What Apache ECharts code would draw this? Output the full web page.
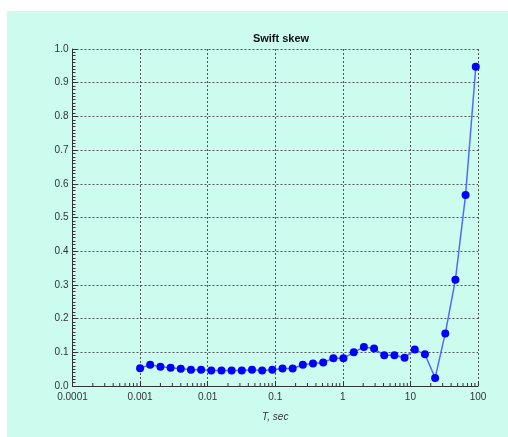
<!DOCTYPE html>
<html>
<head>
<meta charset="utf-8">
<script src="https://cdn.jsdelivr.net/npm/echarts@6/dist/echarts.min.js"></script>
<style>
html,body{margin:0;padding:0;background:#fff;}
#c{width:508px;height:437px;}
</style>
</head>
<body>
<div id="c"></div>
<script>
const titleText = 'Swift skew';
const xName = 'T, sec';
const xTickLabels = ['0.0001', '0.001', '0.01', '0.1', '1', '10', '100'];
const xMinorTicks = [
  0.0002, 0.0003, 0.0004, 0.0005, 0.0006, 0.0007, 0.0008, 0.0009,
  0.002, 0.003, 0.004, 0.005, 0.006, 0.007, 0.008, 0.009,
  0.02, 0.03, 0.04, 0.05, 0.06, 0.07, 0.08, 0.09,
  0.2, 0.3, 0.4, 0.5, 0.6, 0.7, 0.8, 0.9,
  2, 3, 4, 5, 6, 7, 8, 9,
  20, 30, 40, 50, 60, 70, 80, 90];
const periods = [0.001, 0.00141, 0.002, 0.00283, 0.004, 0.00566, 0.008, 0.0113, 0.016, 0.0226,
  0.032, 0.0453, 0.064, 0.0905, 0.128, 0.181, 0.256, 0.362, 0.512, 0.724,
  1.02, 1.45, 2.05, 2.9, 4.1, 5.79, 8.19, 11.6, 16.4, 23.2,
  32.8, 46.3, 65.5, 92.7];
const skew = [0.053, 0.063, 0.057, 0.054, 0.051, 0.048, 0.048, 0.046, 0.046, 0.046,
  0.046, 0.048, 0.046, 0.048, 0.052, 0.052, 0.063, 0.067, 0.070, 0.082,
  0.082, 0.100, 0.116, 0.111, 0.091, 0.091, 0.084, 0.108, 0.094, 0.024,
  0.156, 0.315, 0.567, 0.947];

const chart = echarts.init(document.getElementById('c'), null, {renderer: 'canvas'});
const font = '"Liberation Sans", Arial, sans-serif';
chart.setOption({
  animation: false,
  backgroundColor: '#ffffff',
  graphic: [{
    type: 'rect', z: -10, silent: true,
    shape: {x: 7, y: 11, width: 501, height: 426},
    style: {fill: '#ccfcee'}
  }],
  title: {
    text: titleText, left: 276, top: 28, textAlign: 'center',
    textStyle: {fontFamily: font, fontSize: 11, fontWeight: 'bold', color: '#111'}
  },
  grid: {left: 72.5, right: 30, top: 49, bottom: 51, containLabel: false},
  xAxis: {
    type: 'log', logBase: 10, min: 0.0001, max: 100,
    name: xName, nameLocation: 'middle', nameGap: 26,
    nameTextStyle: {fontFamily: font, fontSize: 10, fontStyle: 'italic', color: '#333'},
    axisLine: {show: true, lineStyle: {color: '#333', width: 1}},
    axisTick: {show: true, inside: true, length: 5, lineStyle: {color: '#333'}},
    minorTick: {show: false},
    axisLabel: {
      fontFamily: font, fontSize: 10, color: '#333', margin: 6,
      formatter: function (v) { return xTickLabels[Math.round(Math.log10(v)) + 4]; }
    },
    splitLine: {show: true, lineStyle: {color: '#555', type: [2, 2], width: 1}}
  },
  yAxis: {
    type: 'value', min: 0, max: 1, interval: 0.1,
    axisLine: {show: true, lineStyle: {color: '#333', width: 1}},
    axisTick: {show: true, inside: true, length: 5, lineStyle: {color: '#333'}},
    minorTick: {show: true, splitNumber: 10, length: 3, lineStyle: {color: '#333'}},
    axisLabel: {
      fontFamily: font, fontSize: 10, color: '#333', margin: 4,
      formatter: function (v) { return v.toFixed(1); }
    },
    splitLine: {show: true, lineStyle: {color: '#555', type: [2, 2], width: 1}}
  },
  series: [{
    type: 'custom',
    silent: true,
    clip: false,
    z: 5,
    data: xMinorTicks.map(v => [v, 0]),
    renderItem: function (params, api) {
      const p = api.coord([api.value(0), api.value(1)]);
      return {
        type: 'line',
        shape: {x1: p[0], y1: p[1], x2: p[0], y2: p[1] - 3},
        style: {stroke: '#333', lineWidth: 1}
      };
    }
  }, {
    type: 'line',
    data: periods.map((p, i) => [p, skew[i]]),
    symbol: 'circle', symbolSize: 8,
    z: 10,
    itemStyle: {color: '#0000ff'},
    lineStyle: {color: '#4f6cff', width: 1.5}
  }]
});
</script>
</body>
</html>
